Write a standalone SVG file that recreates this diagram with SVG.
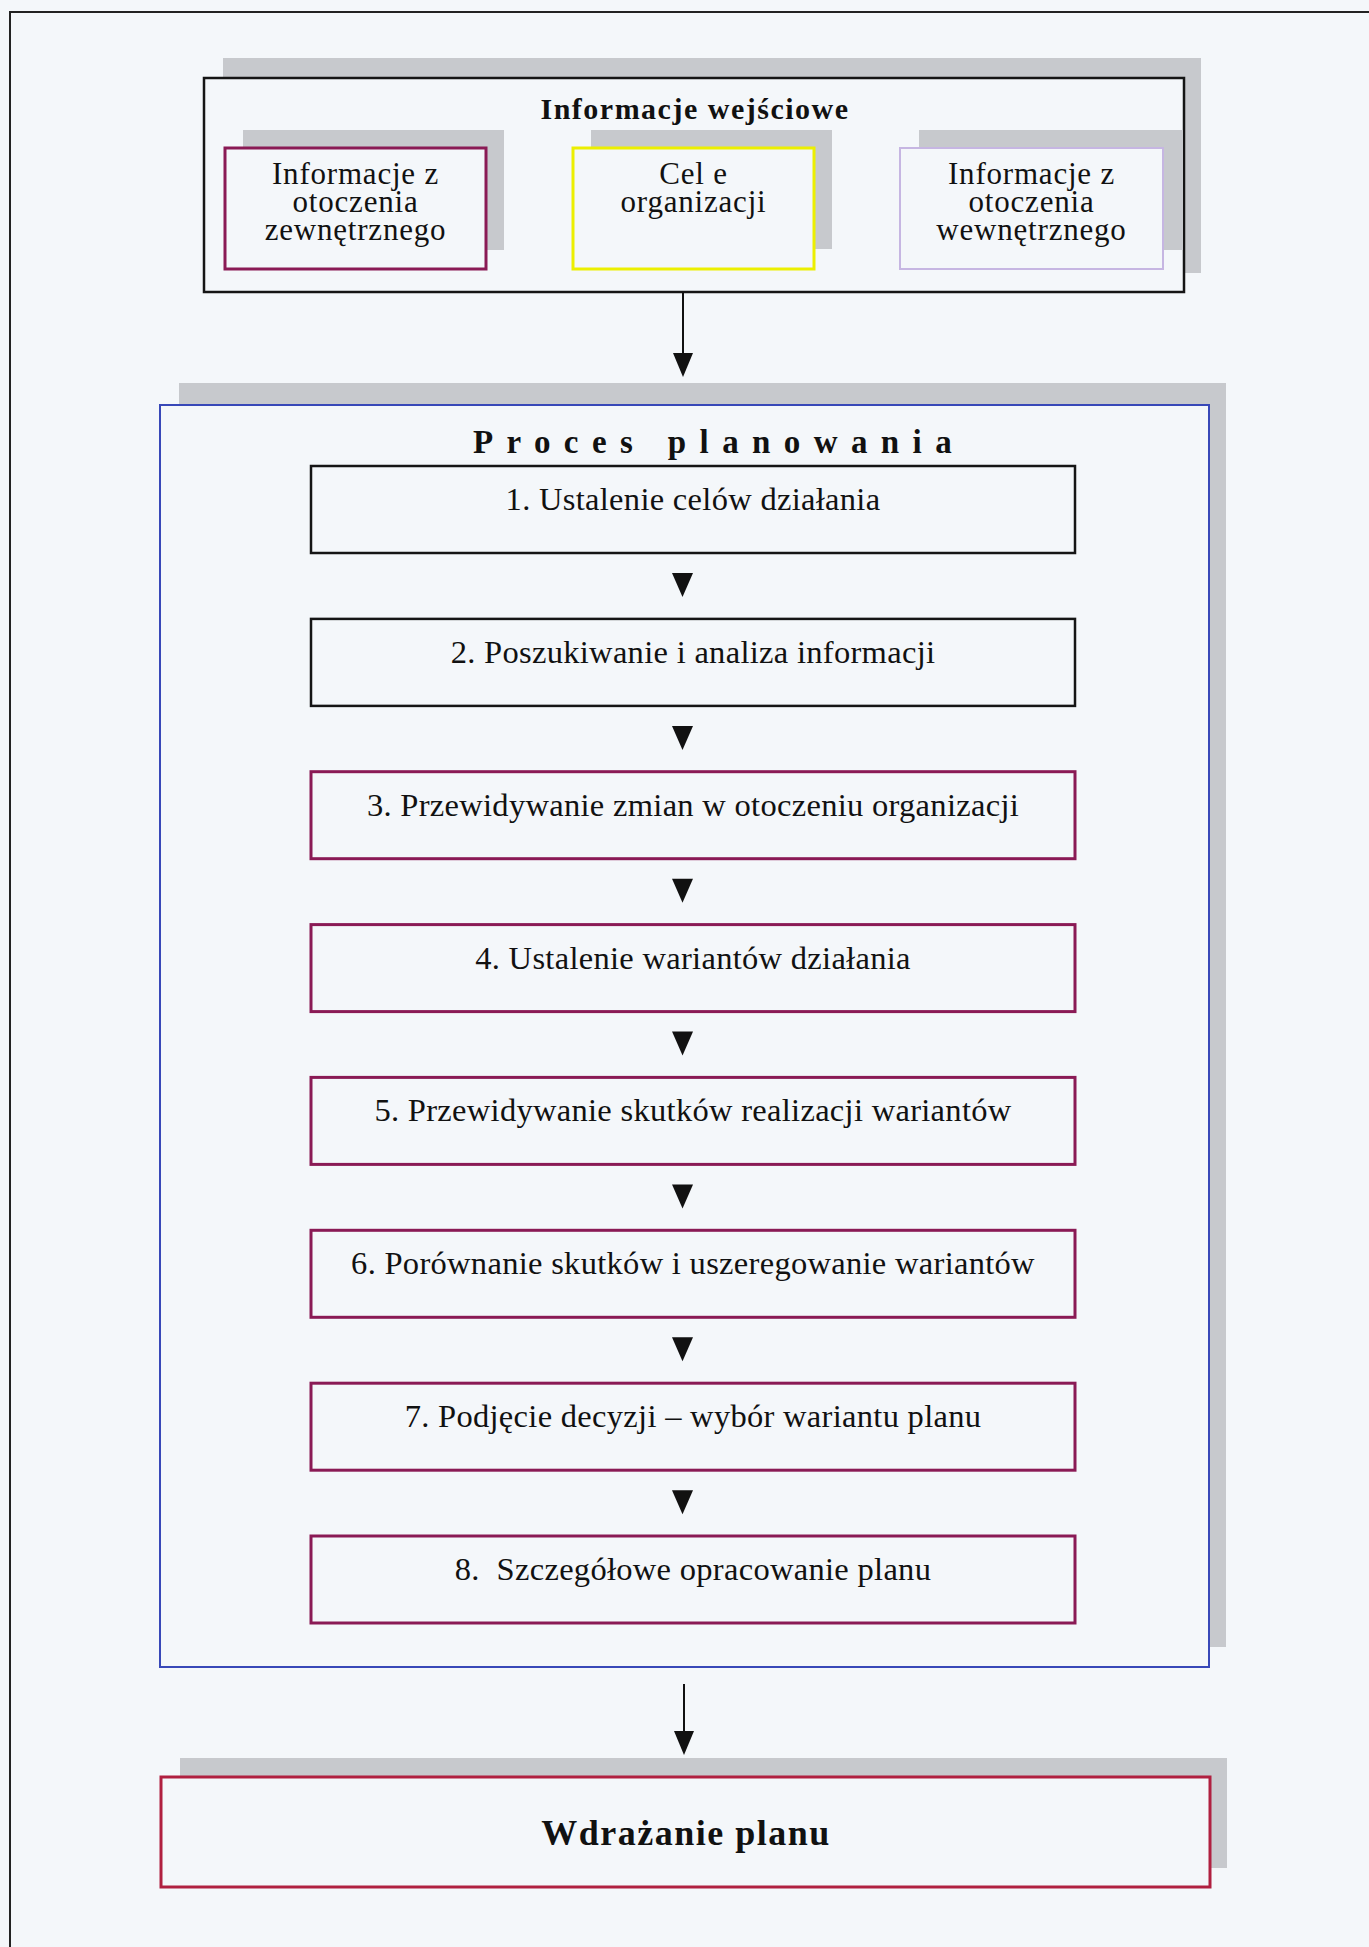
<svg xmlns="http://www.w3.org/2000/svg" width="1369" height="1947" viewBox="0 0 1369 1947">
  <style>
    .page { fill: #f4f7fa; }
    .shadow { fill: #c7c9cd; }
    .box { fill: #f4f7fa; }
    .txt { font-family: "Liberation Serif", "Times New Roman", serif; fill: #111; }
    .title { font-size: 30px; font-weight: bold; letter-spacing: 1.5px; text-anchor: middle; }
    .inner { font-size: 31px; letter-spacing: 0.8px; text-anchor: middle; }
    .step { font-size: 32.5px; letter-spacing: 0.3px; text-anchor: middle; }
    .black { stroke: #151515; stroke-width: 2.5; }
    .maroon { stroke: #8a1a55; stroke-width: 3; }
    .conn line { stroke: #111; stroke-width: 2; }
    .conn polygon { fill: #111; }
  </style>

  <!-- page background and frame -->
  <rect class="page" x="0" y="0" width="1369" height="1947"/>
  <rect x="10" y="12" width="1400" height="2000" fill="none" stroke="#222" stroke-width="2"/>

  <!-- input information block -->
  <g id="inputs">
    <rect class="shadow" x="223" y="58" width="978" height="215"/>
    <rect class="box black" x="204" y="78" width="980" height="214"/>
    <text class="txt title" x="695" y="119">Informacje wejściowe</text>
  </g>

  <g id="external">
    <rect class="shadow" x="243" y="130" width="261" height="120"/>
    <rect class="box" x="225" y="148" width="261" height="121" stroke="#8a1a55" stroke-width="3"/>
    <text class="txt inner" x="355.5" y="184">Informacje z</text>
    <text class="txt inner" x="355.5" y="212">otoczenia</text>
    <text class="txt inner" x="355.5" y="240">zewnętrznego</text>
  </g>

  <g id="goals">
    <rect class="shadow" x="591" y="130" width="241" height="119"/>
    <rect class="box" x="573" y="148" width="241" height="121" stroke="#ecef00" stroke-width="3"/>
    <text class="txt inner" x="693.5" y="184">Cel e</text>
    <text class="txt inner" x="693.5" y="212">organizacji</text>
  </g>

  <g id="internal">
    <rect class="shadow" x="919" y="130" width="264" height="120"/>
    <rect class="box" x="900" y="148" width="263" height="121" stroke="#c6b6e2" stroke-width="2"/>
    <text class="txt inner" x="1031.5" y="184">Informacje z</text>
    <text class="txt inner" x="1031.5" y="212">otoczenia</text>
    <text class="txt inner" x="1031.5" y="240">wewnętrznego</text>
  </g>

  <!-- planning process container -->
  <g id="process">
    <rect class="shadow" x="179" y="383" width="1047" height="1264"/>
    <rect class="box" x="160" y="405" width="1049" height="1262" stroke="#3848b8" stroke-width="2"/>
    <text class="txt" x="719" y="453" font-size="33" font-weight="bold" letter-spacing="13.4" text-anchor="middle">Proces planowania</text>
  </g>

  <g id="step1">
    <rect class="box black" x="311" y="466" width="764" height="87"/>
    <text class="txt step" x="693" y="510">1. Ustalenie celów działania</text>
  </g>
  <g id="step2">
    <rect class="box black" x="311" y="618.9" width="764" height="87"/>
    <text class="txt step" x="693" y="662.9">2. Poszukiwanie i analiza informacji</text>
  </g>
  <g id="step3">
    <rect class="box maroon" x="311" y="771.7" width="764" height="87"/>
    <text class="txt step" x="693" y="815.7">3. Przewidywanie zmian w otoczeniu organizacji</text>
  </g>
  <g id="step4">
    <rect class="box maroon" x="311" y="924.6" width="764" height="87"/>
    <text class="txt step" x="693" y="968.6">4. Ustalenie wariantów działania</text>
  </g>
  <g id="step5">
    <rect class="box maroon" x="311" y="1077.4" width="764" height="87"/>
    <text class="txt step" x="693" y="1121.4">5. Przewidywanie skutków realizacji wariantów</text>
  </g>
  <g id="step6">
    <rect class="box maroon" x="311" y="1230.3" width="764" height="87"/>
    <text class="txt step" x="693" y="1274.3">6. Porównanie skutków i uszeregowanie wariantów</text>
  </g>
  <g id="step7">
    <rect class="box maroon" x="311" y="1383.2" width="764" height="87"/>
    <text class="txt step" x="693" y="1427.2">7. Podjęcie decyzji – wybór wariantu planu</text>
  </g>
  <g id="step8">
    <rect class="box maroon" x="311" y="1536" width="764" height="87"/>
    <text class="txt step" x="693" y="1580" style="white-space: pre">8.  Szczegółowe opracowanie planu</text>
  </g>

  <!-- implementation -->
  <g id="implementation">
    <rect class="shadow" x="180" y="1758" width="1047" height="110"/>
    <rect class="box" x="161" y="1777" width="1049" height="110" stroke="#b02040" stroke-width="3"/>
    <text class="txt" x="686" y="1845" font-size="36" font-weight="bold" letter-spacing="1.5" text-anchor="middle">Wdrażanie planu</text>
  </g>

  <!-- connectors -->
  <g id="connectors" class="conn">
    <line x1="683" y1="292" x2="683" y2="356"/>
    <polygon points="673,353 693,353 683,377"/>

    <polygon points="672,573 693,573 682.5,597"/>
    <polygon points="672,725.9 693,725.9 682.5,749.9"/>
    <polygon points="672,878.7 693,878.7 682.5,902.7"/>
    <polygon points="672,1031.6 693,1031.6 682.5,1055.6"/>
    <polygon points="672,1184.4 693,1184.4 682.5,1208.4"/>
    <polygon points="672,1337.3 693,1337.3 682.5,1361.3"/>
    <polygon points="672,1490.2 693,1490.2 682.5,1514.2"/>

    <line x1="684" y1="1684" x2="684" y2="1734"/>
    <polygon points="674,1731 694,1731 684,1755"/>
  </g>
</svg>
